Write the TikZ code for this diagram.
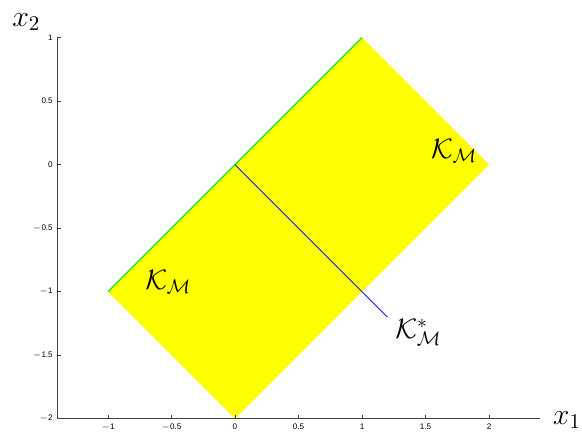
\documentclass[tikz,border=0pt]{standalone}
\usepackage{fix-cm}
\usepackage{fontspec}
\newfontfamily\tickfont{Liberation Sans}
\usepackage{tikz}
\usetikzlibrary{positioning,calc}
\definecolor{coneyellow}{RGB}{255,255,0}
\definecolor{edgegreen}{RGB}{40,235,40}
\definecolor{rayblue}{RGB}{20,20,235}
\tikzset{
  axisline/.style={line width=0.6pt,black!75},
  tickmark/.style={line width=0.45pt,black!75},
  ticklabel/.style={font=\tickfont\fontsize{4.6}{5.5}\selectfont,inner sep=0pt},
  axislabel/.style={font=\fontsize{17}{20}\selectfont,inner sep=0pt},
  setlabel/.style={font=\fontsize{16}{19}\selectfont,inner sep=0pt},
  greenedge/.style={edgegreen,line width=0.8pt},
  blueray/.style={rayblue,line width=0.5pt}
}

\begin{document}
\begin{tikzpicture}[x=2.54cm,y=2.54cm]
\useasboundingbox (-1.850,-2.105) rectangle (2.732,1.296);
% the set and its boundary
\coordinate (A) at (-1,-1);
\coordinate (B) at (1,1);
\coordinate (C) at (2,0);
\coordinate (D) at (0,-2);
\coordinate (O) at (0,0);
\coordinate (rayend) at (1.2,-1.2);
\fill[coneyellow] (A) -- (B) -- (C) -- (D) -- cycle;
\draw[greenedge] (A) -- (B);
\draw[blueray] (O) -- (rayend);
% axes
\coordinate (orig) at (-1.4,-2);
\coordinate (ytop) at (-1.4,1);
\coordinate (xend) at (2.4,-2);
\draw[axisline] (ytop) -- (orig) -- (xend);
\foreach \v/\t [count=\i] in {1/1,0.5/0.5,0/0,-0.5/$-$0.5,-1/$-$1,-1.5/$-$1.5,-2/$-$2}{
  \draw[tickmark] (-1.4,\v) -- (-1.37,\v);
  \node[ticklabel,anchor=east] (yl\i) at (-1.432,\v) {\t};
}
\foreach \v/\t [count=\i] in {-1/$-$1,-0.5/$-$0.5,0/0,0.5/0.5,1/1,1.5/1.5,2/2}{
  \draw[tickmark] (\v,-2) -- (\v,-1.97);
  \node[ticklabel,anchor=north] (xl\i) at (\v,-2.035) {\t};
}
% labels
\node[axislabel,anchor=base west] (xtwo) at (-1.756,1.091) {$x_2$};
\node[axislabel,anchor=base west] (xone) at (2.50,-2.045) {$x_1$};
\node[setlabel,anchor=base west] (Kright) at (1.541,0.050) {$\mathcal{K}_{\mathcal{M}}$};
\node[setlabel,anchor=base west] (Kleft) at (-0.709,-0.982) {$\mathcal{K}_{\mathcal{M}}$};
\node[setlabel,anchor=base west] (Kstar) at (1.260,-1.368) {$\mathcal{K}_{\mathcal{M}}^{*}$};
\end{tikzpicture}
\end{document}
